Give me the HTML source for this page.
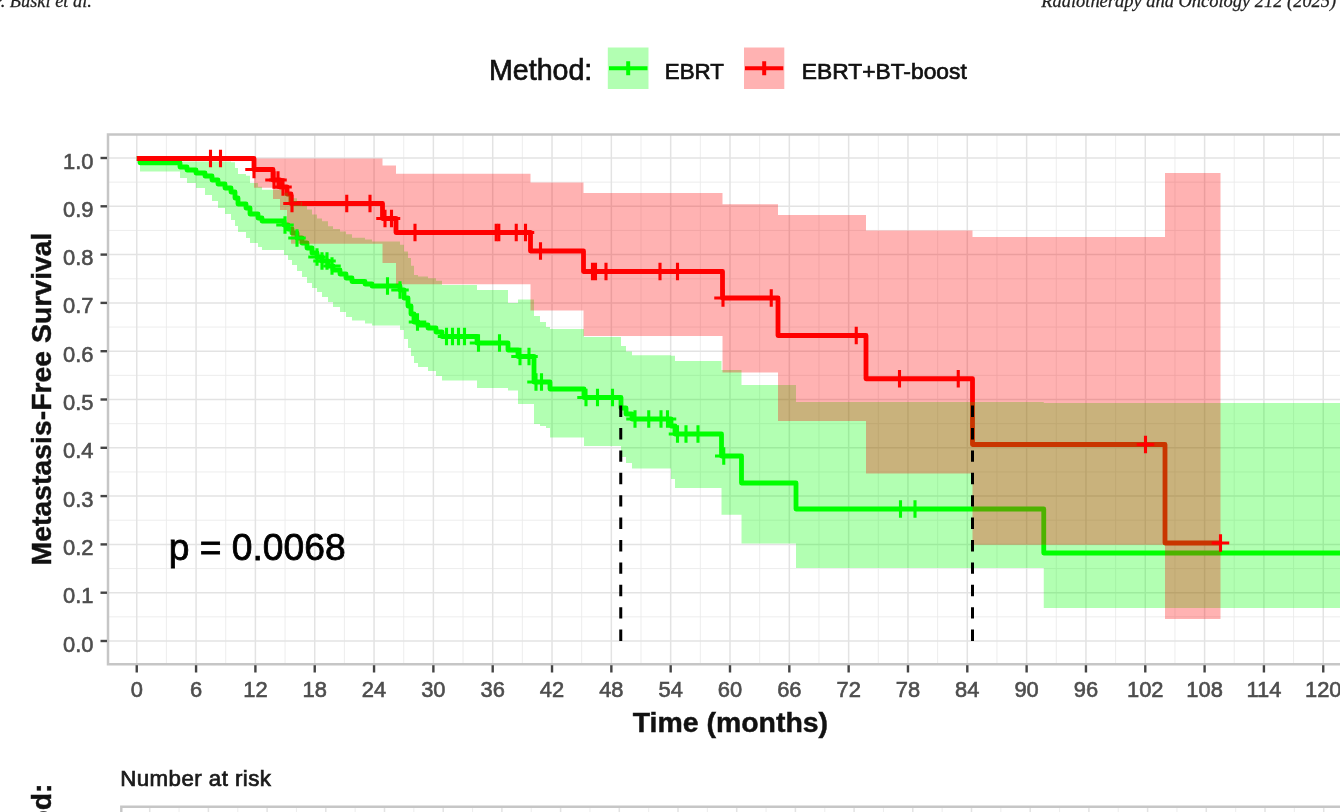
<!DOCTYPE html>
<html><head><meta charset="utf-8"><title>Metastasis-Free Survival</title>
<style>
html,body{margin:0;padding:0;background:#fff;}
body{width:1340px;height:812px;overflow:hidden;position:relative;font-family:"Liberation Sans",sans-serif;}
svg text{font-family:"Liberation Sans",sans-serif;}
svg text{paint-order:stroke;}
svg text.t{stroke:#4d4d4d;stroke-width:0.6px;}
svg text.k{stroke:#111;stroke-width:0.7px;}
svg text.k[font-weight=bold]{stroke-width:0.45px;}
svg text.ser{stroke:#222;stroke-width:0.25px;font-family:"Liberation Serif",serif;font-style:italic;}
</style></head><body>
<svg width="1340" height="812" viewBox="0 0 1340 812" style="position:absolute;left:0;top:0;filter:blur(0.7px)">
<rect x="108.0" y="134.5" width="1242.0" height="529.7" fill="#fff"/>
<line x1="166.41" x2="166.41" y1="134.5" y2="664.2" stroke="#ebebeb" stroke-width="0.9"/>
<line x1="225.74" x2="225.74" y1="134.5" y2="664.2" stroke="#ebebeb" stroke-width="0.9"/>
<line x1="285.06" x2="285.06" y1="134.5" y2="664.2" stroke="#ebebeb" stroke-width="0.9"/>
<line x1="344.39" x2="344.39" y1="134.5" y2="664.2" stroke="#ebebeb" stroke-width="0.9"/>
<line x1="403.71" x2="403.71" y1="134.5" y2="664.2" stroke="#ebebeb" stroke-width="0.9"/>
<line x1="463.04" x2="463.04" y1="134.5" y2="664.2" stroke="#ebebeb" stroke-width="0.9"/>
<line x1="522.36" x2="522.36" y1="134.5" y2="664.2" stroke="#ebebeb" stroke-width="0.9"/>
<line x1="581.69" x2="581.69" y1="134.5" y2="664.2" stroke="#ebebeb" stroke-width="0.9"/>
<line x1="641.01" x2="641.01" y1="134.5" y2="664.2" stroke="#ebebeb" stroke-width="0.9"/>
<line x1="700.34" x2="700.34" y1="134.5" y2="664.2" stroke="#ebebeb" stroke-width="0.9"/>
<line x1="759.66" x2="759.66" y1="134.5" y2="664.2" stroke="#ebebeb" stroke-width="0.9"/>
<line x1="818.99" x2="818.99" y1="134.5" y2="664.2" stroke="#ebebeb" stroke-width="0.9"/>
<line x1="878.31" x2="878.31" y1="134.5" y2="664.2" stroke="#ebebeb" stroke-width="0.9"/>
<line x1="937.64" x2="937.64" y1="134.5" y2="664.2" stroke="#ebebeb" stroke-width="0.9"/>
<line x1="996.96" x2="996.96" y1="134.5" y2="664.2" stroke="#ebebeb" stroke-width="0.9"/>
<line x1="1056.29" x2="1056.29" y1="134.5" y2="664.2" stroke="#ebebeb" stroke-width="0.9"/>
<line x1="1115.61" x2="1115.61" y1="134.5" y2="664.2" stroke="#ebebeb" stroke-width="0.9"/>
<line x1="1174.94" x2="1174.94" y1="134.5" y2="664.2" stroke="#ebebeb" stroke-width="0.9"/>
<line x1="1234.26" x2="1234.26" y1="134.5" y2="664.2" stroke="#ebebeb" stroke-width="0.9"/>
<line x1="1293.59" x2="1293.59" y1="134.5" y2="664.2" stroke="#ebebeb" stroke-width="0.9"/>
<line x1="108.0" x2="1345" y1="616.85" y2="616.85" stroke="#ebebeb" stroke-width="0.9"/>
<line x1="108.0" x2="1345" y1="568.55" y2="568.55" stroke="#ebebeb" stroke-width="0.9"/>
<line x1="108.0" x2="1345" y1="520.25" y2="520.25" stroke="#ebebeb" stroke-width="0.9"/>
<line x1="108.0" x2="1345" y1="471.95" y2="471.95" stroke="#ebebeb" stroke-width="0.9"/>
<line x1="108.0" x2="1345" y1="423.65" y2="423.65" stroke="#ebebeb" stroke-width="0.9"/>
<line x1="108.0" x2="1345" y1="375.35" y2="375.35" stroke="#ebebeb" stroke-width="0.9"/>
<line x1="108.0" x2="1345" y1="327.05" y2="327.05" stroke="#ebebeb" stroke-width="0.9"/>
<line x1="108.0" x2="1345" y1="278.75" y2="278.75" stroke="#ebebeb" stroke-width="0.9"/>
<line x1="108.0" x2="1345" y1="230.45" y2="230.45" stroke="#ebebeb" stroke-width="0.9"/>
<line x1="108.0" x2="1345" y1="182.15" y2="182.15" stroke="#ebebeb" stroke-width="0.9"/>
<line x1="136.75" x2="136.75" y1="134.5" y2="664.2" stroke="#e3e3e3" stroke-width="1.5"/>
<line x1="196.07" x2="196.07" y1="134.5" y2="664.2" stroke="#e3e3e3" stroke-width="1.5"/>
<line x1="255.40" x2="255.40" y1="134.5" y2="664.2" stroke="#e3e3e3" stroke-width="1.5"/>
<line x1="314.73" x2="314.73" y1="134.5" y2="664.2" stroke="#e3e3e3" stroke-width="1.5"/>
<line x1="374.05" x2="374.05" y1="134.5" y2="664.2" stroke="#e3e3e3" stroke-width="1.5"/>
<line x1="433.38" x2="433.38" y1="134.5" y2="664.2" stroke="#e3e3e3" stroke-width="1.5"/>
<line x1="492.70" x2="492.70" y1="134.5" y2="664.2" stroke="#e3e3e3" stroke-width="1.5"/>
<line x1="552.02" x2="552.02" y1="134.5" y2="664.2" stroke="#e3e3e3" stroke-width="1.5"/>
<line x1="611.35" x2="611.35" y1="134.5" y2="664.2" stroke="#e3e3e3" stroke-width="1.5"/>
<line x1="670.67" x2="670.67" y1="134.5" y2="664.2" stroke="#e3e3e3" stroke-width="1.5"/>
<line x1="730.00" x2="730.00" y1="134.5" y2="664.2" stroke="#e3e3e3" stroke-width="1.5"/>
<line x1="789.32" x2="789.32" y1="134.5" y2="664.2" stroke="#e3e3e3" stroke-width="1.5"/>
<line x1="848.65" x2="848.65" y1="134.5" y2="664.2" stroke="#e3e3e3" stroke-width="1.5"/>
<line x1="907.97" x2="907.97" y1="134.5" y2="664.2" stroke="#e3e3e3" stroke-width="1.5"/>
<line x1="967.30" x2="967.30" y1="134.5" y2="664.2" stroke="#e3e3e3" stroke-width="1.5"/>
<line x1="1026.62" x2="1026.62" y1="134.5" y2="664.2" stroke="#e3e3e3" stroke-width="1.5"/>
<line x1="1085.95" x2="1085.95" y1="134.5" y2="664.2" stroke="#e3e3e3" stroke-width="1.5"/>
<line x1="1145.28" x2="1145.28" y1="134.5" y2="664.2" stroke="#e3e3e3" stroke-width="1.5"/>
<line x1="1204.60" x2="1204.60" y1="134.5" y2="664.2" stroke="#e3e3e3" stroke-width="1.5"/>
<line x1="1263.92" x2="1263.92" y1="134.5" y2="664.2" stroke="#e3e3e3" stroke-width="1.5"/>
<line x1="1323.25" x2="1323.25" y1="134.5" y2="664.2" stroke="#e3e3e3" stroke-width="1.5"/>
<line x1="108.0" x2="1345" y1="641.00" y2="641.00" stroke="#e3e3e3" stroke-width="1.5"/>
<line x1="108.0" x2="1345" y1="592.70" y2="592.70" stroke="#e3e3e3" stroke-width="1.5"/>
<line x1="108.0" x2="1345" y1="544.40" y2="544.40" stroke="#e3e3e3" stroke-width="1.5"/>
<line x1="108.0" x2="1345" y1="496.10" y2="496.10" stroke="#e3e3e3" stroke-width="1.5"/>
<line x1="108.0" x2="1345" y1="447.80" y2="447.80" stroke="#e3e3e3" stroke-width="1.5"/>
<line x1="108.0" x2="1345" y1="399.50" y2="399.50" stroke="#e3e3e3" stroke-width="1.5"/>
<line x1="108.0" x2="1345" y1="351.20" y2="351.20" stroke="#e3e3e3" stroke-width="1.5"/>
<line x1="108.0" x2="1345" y1="302.90" y2="302.90" stroke="#e3e3e3" stroke-width="1.5"/>
<line x1="108.0" x2="1345" y1="254.60" y2="254.60" stroke="#e3e3e3" stroke-width="1.5"/>
<line x1="108.0" x2="1345" y1="206.30" y2="206.30" stroke="#e3e3e3" stroke-width="1.5"/>
<line x1="108.0" x2="1345" y1="158.00" y2="158.00" stroke="#e3e3e3" stroke-width="1.5"/>
<path d="M136.75 158.50 H140.00 V162.80 H180.00 V167.00 H187.00 V170.00 H196.00 V173.00 H205.00 V176.00 H212.00 V180.00 H218.00 V184.00 H225.00 V188.00 H231.00 V192.00 H235.00 V198.00 H238.00 V204.00 H246.00 V208.00 H250.00 V214.00 H258.00 V218.00 H262.00 V221.00 H284.00 V225.00 H288.00 V229.00 H292.00 V233.00 H297.00 V238.00 H302.00 V243.00 H307.00 V248.00 H312.00 V253.00 H317.00 V257.00 H322.00 V261.00 H328.00 V266.00 H333.00 V270.00 H340.00 V274.00 H346.00 V278.00 H352.00 V281.50 H365.00 V284.00 H372.00 V286.00 H400.00 V290.00 H404.00 V298.00 H408.00 V306.00 H411.00 V314.00 H414.00 V322.00 H418.00 V325.00 H428.00 V328.00 H436.00 V332.00 H442.00 V336.50 H477.00 V343.00 H508.00 V350.00 H518.00 V356.50 H534.00 V382.00 H540.00 V382.00 H546.00 V382.00 H550.00 V389.00 H584.00 V397.50 H621.00 V408.00 H626.00 V414.00 H632.00 V419.00 H671.00 V426.00 H675.00 V434.00 H721.50 V456.00 H741.50 V483.00 H796.00 V509.00 H1043.75 V553.00 H1345.00" stroke="#00ff00" stroke-width="4.8" fill="none" stroke-linejoin="round"/>
<path d="M136.75 158.50 H254.00 V169.50 H273.00 V180.00 H280.00 V187.00 H287.00 V194.00 H291.00 V203.50 H382.50 V218.50 H396.00 V232.50 H530.50 V251.00 H583.50 V271.50 H722.50 V298.00 H778.00 V335.50 H866.00 V378.75 H972.50 V444.50 H1165.00 V543.00 H1220.50" stroke="#ff0000" stroke-width="4.8" fill="none" stroke-linejoin="round"/>
<path d="M136.75 158.50 H140.00 V161.40 H180.00 V161.40 H187.00 V161.40 H196.00 V161.40 H205.00 V161.40 H212.00 V161.40 H218.00 V161.40 H225.00 V161.40 H231.00 V162.14 H235.00 V168.11 H238.00 V174.08 H246.00 V175.77 H250.00 V182.89 H258.00 V186.87 H262.00 V189.85 H284.00 V192.67 H288.00 V195.48 H292.00 V198.28 H297.00 V202.06 H302.00 V205.82 H307.00 V209.58 H312.00 V214.53 H317.00 V218.49 H322.00 V221.23 H328.00 V226.18 H333.00 V228.90 H340.00 V231.61 H346.00 V234.31 H352.00 V237.75 H365.00 V239.59 H372.00 V241.55 H400.00 V244.86 H404.00 V251.43 H408.00 V257.98 H411.00 V265.81 H414.00 V274.95 H418.00 V276.56 H428.00 V278.15 H436.00 V280.69 H442.00 V285.07 H477.00 V290.00 H508.00 V302.95 H518.00 V299.48 H534.00 V316.00 H540.00 V322.00 H546.00 V327.00 H550.00 V328.94 H584.00 V336.94 H621.00 V345.95 H626.00 V351.51 H632.00 V355.30 H671.00 V355.66 H675.00 V360.94 H721.50 V369.91 H741.50 V384.96 H796.00 V402.00 H1043.75 V403.00 H1345.00 V608.00 H1043.75 V568.00 H796.00 V543.50 H741.50 V514.75 H721.50 V488.00 H675.00 V479.00 H671.00 V468.50 H632.00 V463.00 H626.00 V457.00 H621.00 V446.00 H584.00 V437.50 H550.00 V428.00 H546.00 V426.00 H540.00 V424.00 H534.00 V404.00 H518.00 V390.50 H508.00 V388.00 H477.00 V380.50 H442.00 V376.00 H436.00 V371.00 H428.00 V367.00 H418.00 V363.00 H414.00 V356.00 H411.00 V348.00 H408.00 V339.00 H404.00 V330.00 H400.00 V325.50 H372.00 V323.50 H365.00 V320.50 H352.00 V317.00 H346.00 V312.00 H340.00 V307.00 H333.00 V302.00 H328.00 V297.00 H322.00 V292.00 H317.00 V288.00 H312.00 V283.00 H307.00 V277.00 H302.00 V271.00 H297.00 V265.00 H292.00 V260.00 H288.00 V255.00 H284.00 V250.00 H262.00 V247.00 H258.00 V243.00 H250.00 V238.00 H246.00 V232.00 H238.00 V226.00 H235.00 V220.00 H231.00 V214.00 H225.00 V208.00 H218.00 V201.00 H212.00 V195.00 H205.00 V188.00 H196.00 V183.00 H187.00 V178.00 H180.00 V171.50 H140.00 V158.50 H136.75 Z" fill="#00ff00" fill-opacity="0.3"/>
<path d="M254.00 158.50 H273.00 V158.50 H280.00 V158.50 H287.00 V158.50 H291.00 V158.50 H382.50 V165.50 H396.00 V173.75 H530.50 V182.50 H583.50 V193.00 H722.50 V204.25 H778.00 V215.00 H866.00 V230.50 H972.50 V237.00 H1165.00 V173.00 H1220.50 V619.00 H1165.00 V544.75 H972.50 V473.50 H866.00 V421.00 H778.00 V372.50 H722.50 V336.00 H583.50 V310.40 H530.50 V284.25 H396.00 V263.00 H382.50 V243.75 H291.00 V226.00 H287.00 V210.00 H280.00 V199.00 H273.00 V187.70 H254.00 Z" fill="#ff0000" fill-opacity="0.3"/>
<path d="M285.00 216.25 v17.5 M276.25 225.00 h17.5" stroke="#00ff00" stroke-width="3.1" fill="none"/>
<path d="M297.00 229.25 v17.5 M288.25 238.00 h17.5" stroke="#00ff00" stroke-width="3.1" fill="none"/>
<path d="M317.00 248.25 v17.5 M308.25 257.00 h17.5" stroke="#00ff00" stroke-width="3.1" fill="none"/>
<path d="M322.00 252.25 v17.5 M313.25 261.00 h17.5" stroke="#00ff00" stroke-width="3.1" fill="none"/>
<path d="M327.00 252.25 v17.5 M318.25 261.00 h17.5" stroke="#00ff00" stroke-width="3.1" fill="none"/>
<path d="M332.00 257.25 v17.5 M323.25 266.00 h17.5" stroke="#00ff00" stroke-width="3.1" fill="none"/>
<path d="M387.50 277.25 v17.5 M378.75 286.00 h17.5" stroke="#00ff00" stroke-width="3.1" fill="none"/>
<path d="M400.00 281.25 v17.5 M391.25 290.00 h17.5" stroke="#00ff00" stroke-width="3.1" fill="none"/>
<path d="M417.50 313.25 v17.5 M408.75 322.00 h17.5" stroke="#00ff00" stroke-width="3.1" fill="none"/>
<path d="M446.50 327.75 v17.5 M437.75 336.50 h17.5" stroke="#00ff00" stroke-width="3.1" fill="none"/>
<path d="M452.50 327.75 v17.5 M443.75 336.50 h17.5" stroke="#00ff00" stroke-width="3.1" fill="none"/>
<path d="M458.50 327.75 v17.5 M449.75 336.50 h17.5" stroke="#00ff00" stroke-width="3.1" fill="none"/>
<path d="M464.50 327.75 v17.5 M455.75 336.50 h17.5" stroke="#00ff00" stroke-width="3.1" fill="none"/>
<path d="M478.50 334.25 v17.5 M469.75 343.00 h17.5" stroke="#00ff00" stroke-width="3.1" fill="none"/>
<path d="M499.50 334.25 v17.5 M490.75 343.00 h17.5" stroke="#00ff00" stroke-width="3.1" fill="none"/>
<path d="M520.00 347.75 v17.5 M511.25 356.50 h17.5" stroke="#00ff00" stroke-width="3.1" fill="none"/>
<path d="M529.00 347.75 v17.5 M520.25 356.50 h17.5" stroke="#00ff00" stroke-width="3.1" fill="none"/>
<path d="M536.00 373.25 v17.5 M527.25 382.00 h17.5" stroke="#00ff00" stroke-width="3.1" fill="none"/>
<path d="M541.50 373.25 v17.5 M532.75 382.00 h17.5" stroke="#00ff00" stroke-width="3.1" fill="none"/>
<path d="M586.00 388.75 v17.5 M577.25 397.50 h17.5" stroke="#00ff00" stroke-width="3.1" fill="none"/>
<path d="M597.50 388.75 v17.5 M588.75 397.50 h17.5" stroke="#00ff00" stroke-width="3.1" fill="none"/>
<path d="M612.50 388.75 v17.5 M603.75 397.50 h17.5" stroke="#00ff00" stroke-width="3.1" fill="none"/>
<path d="M635.00 410.25 v17.5 M626.25 419.00 h17.5" stroke="#00ff00" stroke-width="3.1" fill="none"/>
<path d="M648.75 410.25 v17.5 M640.00 419.00 h17.5" stroke="#00ff00" stroke-width="3.1" fill="none"/>
<path d="M661.00 410.25 v17.5 M652.25 419.00 h17.5" stroke="#00ff00" stroke-width="3.1" fill="none"/>
<path d="M667.50 410.25 v17.5 M658.75 419.00 h17.5" stroke="#00ff00" stroke-width="3.1" fill="none"/>
<path d="M677.50 425.25 v17.5 M668.75 434.00 h17.5" stroke="#00ff00" stroke-width="3.1" fill="none"/>
<path d="M686.00 425.25 v17.5 M677.25 434.00 h17.5" stroke="#00ff00" stroke-width="3.1" fill="none"/>
<path d="M698.00 425.25 v17.5 M689.25 434.00 h17.5" stroke="#00ff00" stroke-width="3.1" fill="none"/>
<path d="M723.75 447.25 v17.5 M715.00 456.00 h17.5" stroke="#00ff00" stroke-width="3.1" fill="none"/>
<path d="M900.50 500.25 v17.5 M891.75 509.00 h17.5" stroke="#00ff00" stroke-width="3.1" fill="none"/>
<path d="M915.00 500.25 v17.5 M906.25 509.00 h17.5" stroke="#00ff00" stroke-width="3.1" fill="none"/>
<path d="M210.50 149.75 v17.5 M201.75 158.50 h17.5" stroke="#ff0000" stroke-width="3.1" fill="none"/>
<path d="M220.50 149.75 v17.5 M211.75 158.50 h17.5" stroke="#ff0000" stroke-width="3.1" fill="none"/>
<path d="M254.00 160.75 v17.5 M245.25 169.50 h17.5" stroke="#ff0000" stroke-width="3.1" fill="none"/>
<path d="M274.00 171.25 v17.5 M265.25 180.00 h17.5" stroke="#ff0000" stroke-width="3.1" fill="none"/>
<path d="M278.00 171.25 v17.5 M269.25 180.00 h17.5" stroke="#ff0000" stroke-width="3.1" fill="none"/>
<path d="M283.00 178.25 v17.5 M274.25 187.00 h17.5" stroke="#ff0000" stroke-width="3.1" fill="none"/>
<path d="M292.00 194.75 v17.5 M283.25 203.50 h17.5" stroke="#ff0000" stroke-width="3.1" fill="none"/>
<path d="M346.75 194.75 v17.5 M338.00 203.50 h17.5" stroke="#ff0000" stroke-width="3.1" fill="none"/>
<path d="M370.00 194.75 v17.5 M361.25 203.50 h17.5" stroke="#ff0000" stroke-width="3.1" fill="none"/>
<path d="M385.00 209.75 v17.5 M376.25 218.50 h17.5" stroke="#ff0000" stroke-width="3.1" fill="none"/>
<path d="M391.50 209.75 v17.5 M382.75 218.50 h17.5" stroke="#ff0000" stroke-width="3.1" fill="none"/>
<path d="M415.00 223.75 v17.5 M406.25 232.50 h17.5" stroke="#ff0000" stroke-width="3.1" fill="none"/>
<path d="M496.20 223.75 v17.5 M487.45 232.50 h17.5" stroke="#ff0000" stroke-width="3.1" fill="none"/>
<path d="M498.80 223.75 v17.5 M490.05 232.50 h17.5" stroke="#ff0000" stroke-width="3.1" fill="none"/>
<path d="M516.25 223.75 v17.5 M507.50 232.50 h17.5" stroke="#ff0000" stroke-width="3.1" fill="none"/>
<path d="M525.50 223.75 v17.5 M516.75 232.50 h17.5" stroke="#ff0000" stroke-width="3.1" fill="none"/>
<path d="M540.50 242.25 v17.5 M531.75 251.00 h17.5" stroke="#ff0000" stroke-width="3.1" fill="none"/>
<path d="M592.50 262.75 v17.5 M583.75 271.50 h17.5" stroke="#ff0000" stroke-width="3.1" fill="none"/>
<path d="M595.50 262.75 v17.5 M586.75 271.50 h17.5" stroke="#ff0000" stroke-width="3.1" fill="none"/>
<path d="M606.00 262.75 v17.5 M597.25 271.50 h17.5" stroke="#ff0000" stroke-width="3.1" fill="none"/>
<path d="M660.00 262.75 v17.5 M651.25 271.50 h17.5" stroke="#ff0000" stroke-width="3.1" fill="none"/>
<path d="M677.50 262.75 v17.5 M668.75 271.50 h17.5" stroke="#ff0000" stroke-width="3.1" fill="none"/>
<path d="M723.00 289.25 v17.5 M714.25 298.00 h17.5" stroke="#ff0000" stroke-width="3.1" fill="none"/>
<path d="M771.25 289.25 v17.5 M762.50 298.00 h17.5" stroke="#ff0000" stroke-width="3.1" fill="none"/>
<path d="M856.25 326.75 v17.5 M847.50 335.50 h17.5" stroke="#ff0000" stroke-width="3.1" fill="none"/>
<path d="M899.50 370.00 v17.5 M890.75 378.75 h17.5" stroke="#ff0000" stroke-width="3.1" fill="none"/>
<path d="M958.25 370.00 v17.5 M949.50 378.75 h17.5" stroke="#ff0000" stroke-width="3.1" fill="none"/>
<path d="M1145.50 435.75 v17.5 M1136.75 444.50 h17.5" stroke="#ff0000" stroke-width="3.1" fill="none"/>
<path d="M1220.50 534.25 v17.5 M1211.75 543.00 h17.5" stroke="#ff0000" stroke-width="3.1" fill="none"/>
<line x1="620.75" x2="620.75" y1="641.0" y2="400.0" stroke="#000" stroke-width="3" stroke-dasharray="11.4 11"/>
<line x1="972.50" x2="972.50" y1="641.0" y2="400.0" stroke="#000" stroke-width="3" stroke-dasharray="11.4 11"/>
<path d="M1345 134.5 H108.0 V664.2 H1345" stroke="#c6c6c6" stroke-width="2.5" fill="none"/>
<line x1="136.75" x2="136.75" y1="665.2" y2="672.5" stroke="#444" stroke-width="2.4"/>
<line x1="196.07" x2="196.07" y1="665.2" y2="672.5" stroke="#444" stroke-width="2.4"/>
<line x1="255.40" x2="255.40" y1="665.2" y2="672.5" stroke="#444" stroke-width="2.4"/>
<line x1="314.73" x2="314.73" y1="665.2" y2="672.5" stroke="#444" stroke-width="2.4"/>
<line x1="374.05" x2="374.05" y1="665.2" y2="672.5" stroke="#444" stroke-width="2.4"/>
<line x1="433.38" x2="433.38" y1="665.2" y2="672.5" stroke="#444" stroke-width="2.4"/>
<line x1="492.70" x2="492.70" y1="665.2" y2="672.5" stroke="#444" stroke-width="2.4"/>
<line x1="552.02" x2="552.02" y1="665.2" y2="672.5" stroke="#444" stroke-width="2.4"/>
<line x1="611.35" x2="611.35" y1="665.2" y2="672.5" stroke="#444" stroke-width="2.4"/>
<line x1="670.67" x2="670.67" y1="665.2" y2="672.5" stroke="#444" stroke-width="2.4"/>
<line x1="730.00" x2="730.00" y1="665.2" y2="672.5" stroke="#444" stroke-width="2.4"/>
<line x1="789.32" x2="789.32" y1="665.2" y2="672.5" stroke="#444" stroke-width="2.4"/>
<line x1="848.65" x2="848.65" y1="665.2" y2="672.5" stroke="#444" stroke-width="2.4"/>
<line x1="907.97" x2="907.97" y1="665.2" y2="672.5" stroke="#444" stroke-width="2.4"/>
<line x1="967.30" x2="967.30" y1="665.2" y2="672.5" stroke="#444" stroke-width="2.4"/>
<line x1="1026.62" x2="1026.62" y1="665.2" y2="672.5" stroke="#444" stroke-width="2.4"/>
<line x1="1085.95" x2="1085.95" y1="665.2" y2="672.5" stroke="#444" stroke-width="2.4"/>
<line x1="1145.28" x2="1145.28" y1="665.2" y2="672.5" stroke="#444" stroke-width="2.4"/>
<line x1="1204.60" x2="1204.60" y1="665.2" y2="672.5" stroke="#444" stroke-width="2.4"/>
<line x1="1263.92" x2="1263.92" y1="665.2" y2="672.5" stroke="#444" stroke-width="2.4"/>
<line x1="1323.25" x2="1323.25" y1="665.2" y2="672.5" stroke="#444" stroke-width="2.4"/>
<line x1="100.5" x2="107.0" y1="641.00" y2="641.00" stroke="#444" stroke-width="2.4"/>
<line x1="100.5" x2="107.0" y1="592.70" y2="592.70" stroke="#444" stroke-width="2.4"/>
<line x1="100.5" x2="107.0" y1="544.40" y2="544.40" stroke="#444" stroke-width="2.4"/>
<line x1="100.5" x2="107.0" y1="496.10" y2="496.10" stroke="#444" stroke-width="2.4"/>
<line x1="100.5" x2="107.0" y1="447.80" y2="447.80" stroke="#444" stroke-width="2.4"/>
<line x1="100.5" x2="107.0" y1="399.50" y2="399.50" stroke="#444" stroke-width="2.4"/>
<line x1="100.5" x2="107.0" y1="351.20" y2="351.20" stroke="#444" stroke-width="2.4"/>
<line x1="100.5" x2="107.0" y1="302.90" y2="302.90" stroke="#444" stroke-width="2.4"/>
<line x1="100.5" x2="107.0" y1="254.60" y2="254.60" stroke="#444" stroke-width="2.4"/>
<line x1="100.5" x2="107.0" y1="206.30" y2="206.30" stroke="#444" stroke-width="2.4"/>
<line x1="100.5" x2="107.0" y1="158.00" y2="158.00" stroke="#444" stroke-width="2.4"/>
<text x="136.75" y="697.3" text-anchor="middle" font-size="21.9" fill="#4d4d4d" class="t">0</text>
<text x="196.07" y="697.3" text-anchor="middle" font-size="21.9" fill="#4d4d4d" class="t">6</text>
<text x="255.40" y="697.3" text-anchor="middle" font-size="21.9" fill="#4d4d4d" class="t">12</text>
<text x="314.73" y="697.3" text-anchor="middle" font-size="21.9" fill="#4d4d4d" class="t">18</text>
<text x="374.05" y="697.3" text-anchor="middle" font-size="21.9" fill="#4d4d4d" class="t">24</text>
<text x="433.38" y="697.3" text-anchor="middle" font-size="21.9" fill="#4d4d4d" class="t">30</text>
<text x="492.70" y="697.3" text-anchor="middle" font-size="21.9" fill="#4d4d4d" class="t">36</text>
<text x="552.02" y="697.3" text-anchor="middle" font-size="21.9" fill="#4d4d4d" class="t">42</text>
<text x="611.35" y="697.3" text-anchor="middle" font-size="21.9" fill="#4d4d4d" class="t">48</text>
<text x="670.67" y="697.3" text-anchor="middle" font-size="21.9" fill="#4d4d4d" class="t">54</text>
<text x="730.00" y="697.3" text-anchor="middle" font-size="21.9" fill="#4d4d4d" class="t">60</text>
<text x="789.32" y="697.3" text-anchor="middle" font-size="21.9" fill="#4d4d4d" class="t">66</text>
<text x="848.65" y="697.3" text-anchor="middle" font-size="21.9" fill="#4d4d4d" class="t">72</text>
<text x="907.97" y="697.3" text-anchor="middle" font-size="21.9" fill="#4d4d4d" class="t">78</text>
<text x="967.30" y="697.3" text-anchor="middle" font-size="21.9" fill="#4d4d4d" class="t">84</text>
<text x="1026.62" y="697.3" text-anchor="middle" font-size="21.9" fill="#4d4d4d" class="t">90</text>
<text x="1085.95" y="697.3" text-anchor="middle" font-size="21.9" fill="#4d4d4d" class="t">96</text>
<text x="1145.28" y="697.3" text-anchor="middle" font-size="21.9" fill="#4d4d4d" class="t">102</text>
<text x="1204.60" y="697.3" text-anchor="middle" font-size="21.9" fill="#4d4d4d" class="t">108</text>
<text x="1263.92" y="697.3" text-anchor="middle" font-size="21.9" fill="#4d4d4d" class="t">114</text>
<text x="1323.25" y="697.3" text-anchor="middle" font-size="21.9" fill="#4d4d4d" class="t">120</text>
<text x="93.5" y="651.50" text-anchor="end" font-size="21.9" fill="#4d4d4d" class="t">0.0</text>
<text x="93.5" y="603.20" text-anchor="end" font-size="21.9" fill="#4d4d4d" class="t">0.1</text>
<text x="93.5" y="554.90" text-anchor="end" font-size="21.9" fill="#4d4d4d" class="t">0.2</text>
<text x="93.5" y="506.60" text-anchor="end" font-size="21.9" fill="#4d4d4d" class="t">0.3</text>
<text x="93.5" y="458.30" text-anchor="end" font-size="21.9" fill="#4d4d4d" class="t">0.4</text>
<text x="93.5" y="410.00" text-anchor="end" font-size="21.9" fill="#4d4d4d" class="t">0.5</text>
<text x="93.5" y="361.70" text-anchor="end" font-size="21.9" fill="#4d4d4d" class="t">0.6</text>
<text x="93.5" y="313.40" text-anchor="end" font-size="21.9" fill="#4d4d4d" class="t">0.7</text>
<text x="93.5" y="265.10" text-anchor="end" font-size="21.9" fill="#4d4d4d" class="t">0.8</text>
<text x="93.5" y="216.80" text-anchor="end" font-size="21.9" fill="#4d4d4d" class="t">0.9</text>
<text x="93.5" y="168.50" text-anchor="end" font-size="21.9" fill="#4d4d4d" class="t">1.0</text>
<text x="730.4" y="731.8" text-anchor="middle" font-size="28.45" font-weight="bold" fill="#111" class="k">Time (months)</text>
<text transform="translate(50.6,399) rotate(-90)" text-anchor="middle" font-size="28.4" font-weight="bold" fill="#111" class="k">Metastasis-Free Survival</text>
<text transform="translate(50.6,783.5) rotate(-90)" text-anchor="end" font-size="28.4" font-weight="bold" fill="#111" class="k">Method:</text>
<text x="168.8" y="560" font-size="37.2" fill="#000" stroke="#000" stroke-width="0.8">p = 0.0068</text>
<text x="120.2" y="785.9" font-size="22.3" letter-spacing="0.45" fill="#1a1a1a" class="k">Number at risk</text>
<text x="489" y="80.4" font-size="28.6" fill="#111" class="k">Method:</text>
<rect x="607.8" y="47.5" width="40.7" height="41.5" fill="#00ff00" fill-opacity="0.3"/>
<path d="M609 68.3 H647.5 M628.2 61.3 V75.3" stroke="#00ff00" stroke-width="4" fill="none"/>
<text x="664.8" y="78.5" font-size="22.3" fill="#111" class="k">EBRT</text>
<rect x="744" y="47.5" width="40.3" height="41.5" fill="#ff0000" fill-opacity="0.3"/>
<path d="M745 68.3 H783.3 M764.2 61.3 V75.3" stroke="#ff0000" stroke-width="4" fill="none"/>
<text x="801.8" y="78.5" font-size="22.8" fill="#111" class="k">EBRT+BT-boost</text>
<text x="-8.2" y="6.7" font-size="18.35" class="ser" fill="#222">P. Buski et al.</text>
<text x="1336.2" y="6.7" text-anchor="end" font-size="18.45" class="ser" fill="#222">Radiotherapy and Oncology 212 (2025)</text>
<line x1="149.70" x2="149.70" y1="806" y2="815" stroke="#e3e3e3" stroke-width="1.5"/>
<line x1="179.05" x2="179.05" y1="806" y2="815" stroke="#ebebeb" stroke-width="0.9"/>
<line x1="208.40" x2="208.40" y1="806" y2="815" stroke="#e3e3e3" stroke-width="1.5"/>
<line x1="237.75" x2="237.75" y1="806" y2="815" stroke="#ebebeb" stroke-width="0.9"/>
<line x1="267.10" x2="267.10" y1="806" y2="815" stroke="#e3e3e3" stroke-width="1.5"/>
<line x1="296.45" x2="296.45" y1="806" y2="815" stroke="#ebebeb" stroke-width="0.9"/>
<line x1="325.80" x2="325.80" y1="806" y2="815" stroke="#e3e3e3" stroke-width="1.5"/>
<line x1="355.15" x2="355.15" y1="806" y2="815" stroke="#ebebeb" stroke-width="0.9"/>
<line x1="384.50" x2="384.50" y1="806" y2="815" stroke="#e3e3e3" stroke-width="1.5"/>
<line x1="413.85" x2="413.85" y1="806" y2="815" stroke="#ebebeb" stroke-width="0.9"/>
<line x1="443.20" x2="443.20" y1="806" y2="815" stroke="#e3e3e3" stroke-width="1.5"/>
<line x1="472.55" x2="472.55" y1="806" y2="815" stroke="#ebebeb" stroke-width="0.9"/>
<line x1="501.90" x2="501.90" y1="806" y2="815" stroke="#e3e3e3" stroke-width="1.5"/>
<line x1="531.25" x2="531.25" y1="806" y2="815" stroke="#ebebeb" stroke-width="0.9"/>
<line x1="560.60" x2="560.60" y1="806" y2="815" stroke="#e3e3e3" stroke-width="1.5"/>
<line x1="589.95" x2="589.95" y1="806" y2="815" stroke="#ebebeb" stroke-width="0.9"/>
<line x1="619.30" x2="619.30" y1="806" y2="815" stroke="#e3e3e3" stroke-width="1.5"/>
<line x1="648.65" x2="648.65" y1="806" y2="815" stroke="#ebebeb" stroke-width="0.9"/>
<line x1="678.00" x2="678.00" y1="806" y2="815" stroke="#e3e3e3" stroke-width="1.5"/>
<line x1="707.35" x2="707.35" y1="806" y2="815" stroke="#ebebeb" stroke-width="0.9"/>
<line x1="736.70" x2="736.70" y1="806" y2="815" stroke="#e3e3e3" stroke-width="1.5"/>
<line x1="766.05" x2="766.05" y1="806" y2="815" stroke="#ebebeb" stroke-width="0.9"/>
<line x1="795.40" x2="795.40" y1="806" y2="815" stroke="#e3e3e3" stroke-width="1.5"/>
<line x1="824.75" x2="824.75" y1="806" y2="815" stroke="#ebebeb" stroke-width="0.9"/>
<line x1="854.10" x2="854.10" y1="806" y2="815" stroke="#e3e3e3" stroke-width="1.5"/>
<line x1="883.45" x2="883.45" y1="806" y2="815" stroke="#ebebeb" stroke-width="0.9"/>
<line x1="912.80" x2="912.80" y1="806" y2="815" stroke="#e3e3e3" stroke-width="1.5"/>
<line x1="942.15" x2="942.15" y1="806" y2="815" stroke="#ebebeb" stroke-width="0.9"/>
<line x1="971.50" x2="971.50" y1="806" y2="815" stroke="#e3e3e3" stroke-width="1.5"/>
<line x1="1000.85" x2="1000.85" y1="806" y2="815" stroke="#ebebeb" stroke-width="0.9"/>
<line x1="1030.20" x2="1030.20" y1="806" y2="815" stroke="#e3e3e3" stroke-width="1.5"/>
<line x1="1059.55" x2="1059.55" y1="806" y2="815" stroke="#ebebeb" stroke-width="0.9"/>
<line x1="1088.90" x2="1088.90" y1="806" y2="815" stroke="#e3e3e3" stroke-width="1.5"/>
<line x1="1118.25" x2="1118.25" y1="806" y2="815" stroke="#ebebeb" stroke-width="0.9"/>
<line x1="1147.60" x2="1147.60" y1="806" y2="815" stroke="#e3e3e3" stroke-width="1.5"/>
<line x1="1176.95" x2="1176.95" y1="806" y2="815" stroke="#ebebeb" stroke-width="0.9"/>
<line x1="1206.30" x2="1206.30" y1="806" y2="815" stroke="#e3e3e3" stroke-width="1.5"/>
<line x1="1235.65" x2="1235.65" y1="806" y2="815" stroke="#ebebeb" stroke-width="0.9"/>
<line x1="1265.00" x2="1265.00" y1="806" y2="815" stroke="#e3e3e3" stroke-width="1.5"/>
<line x1="1294.35" x2="1294.35" y1="806" y2="815" stroke="#ebebeb" stroke-width="0.9"/>
<line x1="1323.70" x2="1323.70" y1="806" y2="815" stroke="#e3e3e3" stroke-width="1.5"/>
<path d="M1345 806.7 H121.3 V816" stroke="#c6c6c6" stroke-width="2.4" fill="none"/>
</svg>
</body></html>
